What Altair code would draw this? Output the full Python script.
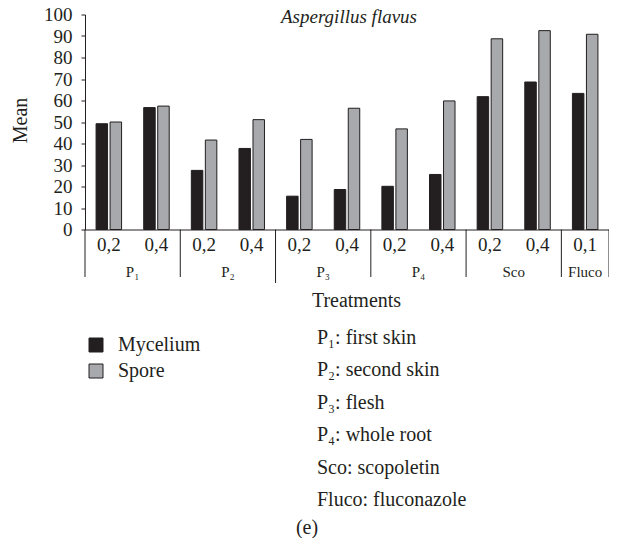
import altair as alt
import pandas as pd

FONT = "Liberation Serif"
INK = "#231f20"

# ---- data ----
groups = ["P₁", "P₁", "P₂", "P₂", "P₃", "P₃", "P₄", "P₄", "Sco", "Sco", "Fluco"]
doses = ["0,2", "0,4", "0,2", "0,4", "0,2", "0,4", "0,2", "0,4", "0,2", "0,4", "0,1"]
mycelium = [49.2, 56.7, 27.5, 37.7, 15.5, 18.6, 20.1, 25.6, 61.8, 68.6, 63.3]
spore = [50.0, 57.4, 41.6, 51.1, 41.9, 56.4, 46.8, 59.8, 88.7, 92.5, 90.8]
series = ["Mycelium", "Spore"]
colors = ["#231f20", "#a7a9ac"]
notes = ["P₁: first skin", "P₂: second skin", "P₃: flesh", "P₄: whole root",
         "Sco: scopoletin", "Fluco: fluconazole"]
title_text = "Aspergillus flavus"
y_title = "Mean"
x_title = "Treatments"
panel_label = "(e)"
long_separator_group = "P₃"   # its left divider runs a little lower in the original

cats = [f"{g}|{d}" for g, d in zip(groups, doses)]
rows = []
for c, m, s in zip(cats, mycelium, spore):
    rows.append({"cat": c, "series": "Mycelium", "value": m})
    rows.append({"cat": c, "series": "Spore", "value": s})
df = pd.DataFrame(rows)

# group boundaries and label anchors
group_order = []
for g in groups:
    if g not in group_order:
        group_order.append(g)
starts, long_starts, pair_lab, single_lab = [], [], [], []
for g in group_order:
    members = [c for c, gg in zip(cats, groups) if gg == g]
    (long_starts if g == long_separator_group else starts).append(members[0])
    if len(members) == 2:
        pair_lab.append({"cat": members[1], "label": g})
    else:
        single_lab.append({"cat": members[0], "label": g})

TOP = 14.5
W, H = 524, 215
xscale = alt.Scale(domain=cats, paddingInner=0, paddingOuter=0)
x_axis = alt.Axis(labelExpr="split(datum.label, '|')[1]", ticks=False,
                  labelAngle=0, labelFontSize=19, labelPadding=15,
                  labelBaseline="middle", labelColor=INK,
                  domainColor=INK, title=x_title, titleFontSize=20,
                  titleFontWeight="normal", titleColor=INK,
                  titleX=271, titleY=71, titleBaseline="middle",
                  titleAlign="center")


def xenc(band=0.5):
    return alt.X("cat:N", scale=xscale, axis=x_axis, bandPosition=band)


bars = alt.Chart(df).mark_bar(stroke=INK, strokeWidth=1).encode(
    x=alt.X("cat:N", scale=xscale, axis=x_axis),
    xOffset=alt.XOffset("series:N",
                        scale=alt.Scale(domain=series, paddingInner=0.18, paddingOuter=0.79)),
    y=alt.Y("value:Q", scale=alt.Scale(domain=[0, 100]),
            axis=alt.Axis(values=list(range(0, 101, 10)), tickSize=4, labelPadding=9,
                          labelFontSize=19, labelColor=INK, domainColor=INK,
                          tickColor=INK, title=y_title, titleFontSize=20,
                          titleFontWeight="normal", titleColor=INK, titleAngle=270,
                          titleX=-65, titleY=120 - TOP, titleAlign="center",
                          titleBaseline="middle")),
    color=alt.Color("series:N", scale=alt.Scale(domain=series, range=colors),
                    legend=alt.Legend(title=None, orient="none", legendX=1, legendY=335 - TOP,
                                      symbolType="square", symbolSize=196,
                                      symbolStrokeColor=INK, symbolStrokeWidth=1,
                                      labelFontSize=20, labelOffset=12, rowPadding=6,
                                      padding=0, labelColor=INK, labelFont=FONT)),
)

sep = alt.Chart(pd.DataFrame({"cat": starts})).mark_rule(color=INK, strokeWidth=1).encode(
    x=xenc(0), y=alt.value(H), y2=alt.value(277 - TOP))
sep_long = alt.Chart(pd.DataFrame({"cat": long_starts})).mark_rule(color=INK, strokeWidth=1).encode(
    x=xenc(0), y=alt.value(H), y2=alt.value(283 - TOP))
sep_end = alt.Chart(pd.DataFrame({"cat": [cats[-1]]})).mark_rule(color=INK, strokeWidth=1).encode(
    x=xenc(1), y=alt.value(H), y2=alt.value(277 - TOP))

glab_pair = alt.Chart(pd.DataFrame(pair_lab)).mark_text(
    fontSize=15, baseline="middle", align="center", color=INK).encode(
    x=xenc(0), y=alt.value(272 - TOP), text="label:N")
glab_single = alt.Chart(pd.DataFrame(single_lab)).mark_text(
    fontSize=15, baseline="middle", align="center", color=INK).encode(
    x=xenc(0.5), y=alt.value(272 - TOP), text="label:N")

title = alt.Chart(pd.DataFrame({"t": [title_text]})).mark_text(
    fontSize=19, fontStyle="italic", align="center", baseline="alphabetic", color=INK).encode(
    text="t:N", x=alt.value(264), y=alt.value(22.5 - TOP))

notes_layer = alt.Chart(pd.DataFrame({"t": ["\n".join(notes)]})).mark_text(
    fontSize=20, align="left", baseline="top", lineBreak="\n", lineHeight=32.5, color=INK).encode(
    text="t:N", x=alt.value(232), y=alt.value(327.5 - TOP))

plabel = alt.Chart(pd.DataFrame({"t": [panel_label]})).mark_text(
    fontSize=20, align="center", baseline="middle", color=INK).encode(
    text="t:N", x=alt.value(222), y=alt.value(528 - TOP))

chart = alt.layer(bars, sep, sep_long, sep_end, glab_pair, glab_single, title,
                  notes_layer, plabel).properties(
    width=W, height=H,
    autosize=alt.AutoSizeParams(type="none"),
    padding={"left": 77, "top": TOP - 8, "right": 0, "bottom": 530 - (TOP - 8) - H},
).configure_view(stroke=None).configure_axis(
    grid=False, labelFont=FONT, titleFont=FONT
).configure_text(font=FONT).configure_legend(labelFont=FONT)

chart.save("out.html", embed_options={"renderer": "svg", "actions": False})
